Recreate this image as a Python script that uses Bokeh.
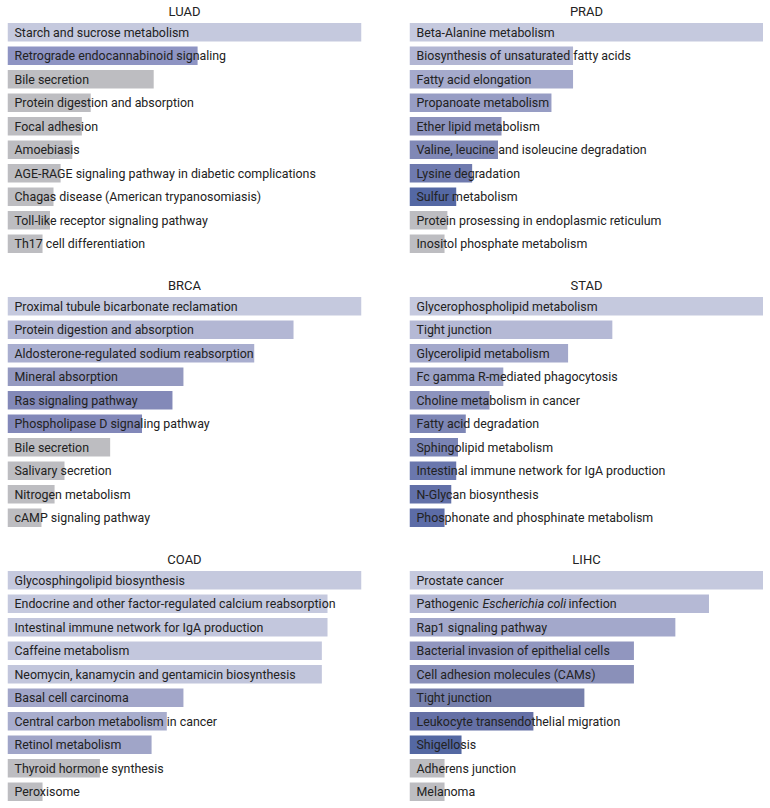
from bokeh.plotting import figure
from bokeh.models import FactorRange, Range1d, ColumnDataSource
from bokeh.layouts import gridplot
from bokeh.embed import file_html
from bokeh.resources import INLINE
from bokeh.core.properties import value

FONT = "Roboto"
FSIZE = "12.4px"
GREY = "#bdbdc1"

luad_terms = ["Starch and sucrose metabolism", "Retrograde endocannabinoid signaling", "Bile secretion",
              "Protein digestion and absorption", "Focal adhesion", "Amoebiasis",
              "AGE-RAGE signaling pathway in diabetic complications", "Chagas disease (American trypanosomiasis)",
              "Toll-like receptor signaling pathway", "Th17 cell differentiation"]
luad_vals = [10, 5.37, 4.13, 2.35, 2.10, 1.83, 1.50, 1.30, 1.20, 0.99]
luad_cols = ["#c5c9de", "#8e94c3", GREY, GREY, GREY, GREY, GREY, GREY, GREY, GREY]

prad_terms = ["Beta-Alanine metabolism", "Biosynthesis of unsaturated fatty acids", "Fatty acid elongation",
              "Propanoate metabolism", "Ether lipid metabolism", "Valine, leucine and isoleucine degradation",
              "Lysine degradation", "Sulfur metabolism", "Protein prosessing in endoplasmic reticulum",
              "Inositol phosphate metabolism"]
prad_vals = [10, 4.62, 4.62, 4.01, 2.60, 2.50, 1.77, 1.32, 1.07, 0.99]
prad_cols = ["#c5c9de", "#b2b6d3", "#a5aacc", "#979dc4", "#8c92bc", "#8088b6", "#6f7aae", "#5468a4", GREY, GREY]

brca_terms = ["Proximal tubule bicarbonate reclamation", "Protein digestion and absorption",
              "Aldosterone-regulated sodium reabsorption", "Mineral absorption", "Ras signaling pathway",
              "Phospholipase D signaling pathway", "Bile secretion", "Salivary secretion",
              "Nitrogen metabolism", "cAMP signaling pathway"]
brca_vals = [10, 8.08, 6.97, 4.97, 4.66, 3.80, 2.90, 1.61, 1.33, 0.96]
brca_cols = ["#c5c9de", "#b3b7d4", "#a9aecf", "#9499c0", "#8389b8", "#8288b9", GREY, GREY, GREY, GREY]

stad_terms = ["Glycerophospholipid metabolism", "Tight junction", "Glycerolipid metabolism",
              "Fc gamma R-mediated phagocytosis", "Choline metabolism in cancer", "Fatty acid degradation",
              "Sphingolipid metabolism", "Intestinal immune network for IgA production",
              "N-Glycan biosynthesis", "Phosphonate and phosphinate metabolism"]
stad_vals = [10, 5.73, 4.48, 2.65, 2.26, 1.59, 1.37, 1.32, 1.18, 0.99]
stad_cols = ["#c5c9de", "#b5b9d5", "#a3a8cb", "#9ca2c7", "#8c93bd", "#7d86b5", "#7a84b5", "#6a77ad", "#6270a8", "#5c6ca7"]

coad_terms = ["Glycosphingolipid biosynthesis", "Endocrine and other factor-regulated calcium reabsorption",
              "Intestinal immune network for IgA production", "Caffeine metabolism",
              "Neomycin, kanamycin and gentamicin biosynthesis", "Basal cell carcinoma",
              "Central carbon metabolism in cancer", "Retinol metabolism", "Thyroid hormone synthesis",
              "Peroxisome"]
coad_vals = [10, 9.04, 9.04, 8.88, 8.88, 4.97, 4.50, 4.07, 2.61, 0.99]
coad_cols = ["#c5c9de", "#c5c9de", "#c3c7dd", "#c3c7dd", "#c2c6dc", "#a2a6c9", "#a8adcd", "#a0a5c8", GREY, GREY]

lihc_terms = ["Prostate cancer", "Pathogenic Escherichia coli infection", "Rap1 signaling pathway",
              "Bacterial invasion of epithelial cells", "Cell adhesion molecules (CAMs)", "Tight junction",
              "Leukocyte transendothelial migration", "Shigellosis", "Adherens junction", "Melanoma"]
lihc_vals = [10, 8.46, 7.51, 6.34, 6.34, 4.94, 3.50, 1.47, 0.99, 0.99]
lihc_cols = ["#c5c9de", "#b5b9d5", "#a3a8cb", "#9196bf", "#8a90b9", "#767fab", "#6570a6", "#5468a2", GREY, GREY]

ITALIC_TERM = "Pathogenic Escherichia coli infection"
ITALIC_PARTS = [("Pathogenic", "normal", 0), ("Escherichia coli", "italic", 66), ("infection", "normal", 152)]

panels = [("LUAD", luad_terms, luad_vals, luad_cols),
          ("PRAD", prad_terms, prad_vals, prad_cols),
          ("BRCA", brca_terms, brca_vals, brca_cols),
          ("STAD", stad_terms, stad_vals, stad_cols),
          ("COAD", coad_terms, coad_vals, coad_cols),
          ("LIHC", lihc_terms, lihc_vals, lihc_cols)]


def make_panel(idx, name, terms, vals, cols):
    left = idx % 2 == 0
    last_row = idx >= 4
    w = 409 if left else 354
    h = 258 if last_row else 274
    p = figure(width=w, height=h, output_backend="svg", toolbar_location=None,
               y_range=FactorRange(*reversed(terms), range_padding=0),
               x_range=Range1d(0, 10),
               min_border_left=7 if left else 0, min_border_right=48 if left else 0,
               min_border_top=0, min_border_bottom=3 if last_row else 19)
    p.title.text = name
    p.title.align = "center"
    p.title.text_font = FONT
    p.title.text_font_size = "13px"
    p.title.text_font_style = "normal"
    p.title.text_color = "#222222"
    p.title.standoff = 3
    p.xaxis.visible = False
    p.yaxis.visible = False
    p.xgrid.visible = False
    p.ygrid.visible = False
    p.outline_line_color = None
    src = ColumnDataSource(dict(term=terms, val=vals, col=cols,
                                lab=["" if t == ITALIC_TERM else t for t in terms],
                                zero=[0] * len(terms)))
    p.hbar(y="term", left=0, right="val", height=0.79, fill_color="col", line_color=None, source=src)
    p.text(x="zero", y="term", text="lab", source=src, x_offset=7, text_baseline="middle",
           text_font=value(FONT), text_font_size=FSIZE, text_color="#222222")
    if ITALIC_TERM in terms:
        for part, style, off in ITALIC_PARTS:
            p.text(x=[0], y=[ITALIC_TERM], text=[part], x_offset=7 + off, text_baseline="middle",
                   text_font=value(FONT), text_font_size=FSIZE, text_font_style=style,
                   text_color="#222222")
    return p


figs = [make_panel(i, *pnl) for i, pnl in enumerate(panels)]
grid = gridplot([[figs[0], figs[1]], [figs[2], figs[3]], [figs[4], figs[5]]], toolbar_location=None)

open("out.html", "w").write(file_html(grid, INLINE))
